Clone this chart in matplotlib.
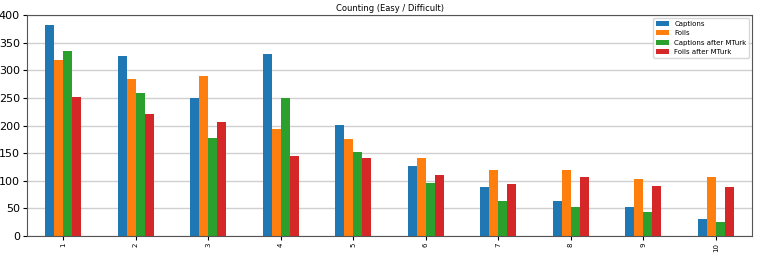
import numpy as np
import matplotlib.pyplot as plt

# Counting (Easy / Difficult)
groups = ['1', '2', '3', '4', '5', '6', '7', '8', '9', '10']
captions = [382, 325, 249, 329, 201, 126, 89, 64, 53, 31]
foils = [318, 284, 290, 194, 175, 141, 120, 119, 103, 106]
captions_mturk = [335, 259, 178, 250, 152, 96, 63, 52, 43, 25]
foils_mturk = [252, 221, 207, 145, 141, 110, 94, 106, 90, 88]

series = [
    ('Captions', captions, '#1f77b4'),
    ('Foils', foils, '#ff7f0e'),
    ('Captions after MTurk', captions_mturk, '#2ca02c'),
    ('Foils after MTurk', foils_mturk, '#d62728'),
]

fig = plt.figure(figsize=(7.61, 2.54), dpi=100)
ax = fig.add_axes([27/761, 18/254, 725/761, 221/254])

x = np.arange(len(groups))
w = 0.125
for i, (name, vals, col) in enumerate(series):
    ax.bar(x + (i - 1.5) * w, vals, w, color=col, label=name)

ax.set_xlim(-0.5, len(groups) - 0.5)
ax.set_ylim(0, 400)
ax.set_xticks(x)
ax.set_xticklabels(groups, rotation=90, fontsize=5)
ax.tick_params(axis='y', labelsize=8, length=3, pad=2)
ax.tick_params(axis='x', length=3, pad=2)
ax.yaxis.grid(True, color='#d0d0d0', linewidth=1)
ax.set_axisbelow(True)
for s in ax.spines.values():
    s.set_color('#555555')

ax.set_title("Counting (Easy / Difficult)", fontsize=6, pad=3)
ax.legend(loc='upper right', fontsize=5, handlelength=1.8, borderaxespad=0.4)

fig.savefig("out.png", dpi=100)
